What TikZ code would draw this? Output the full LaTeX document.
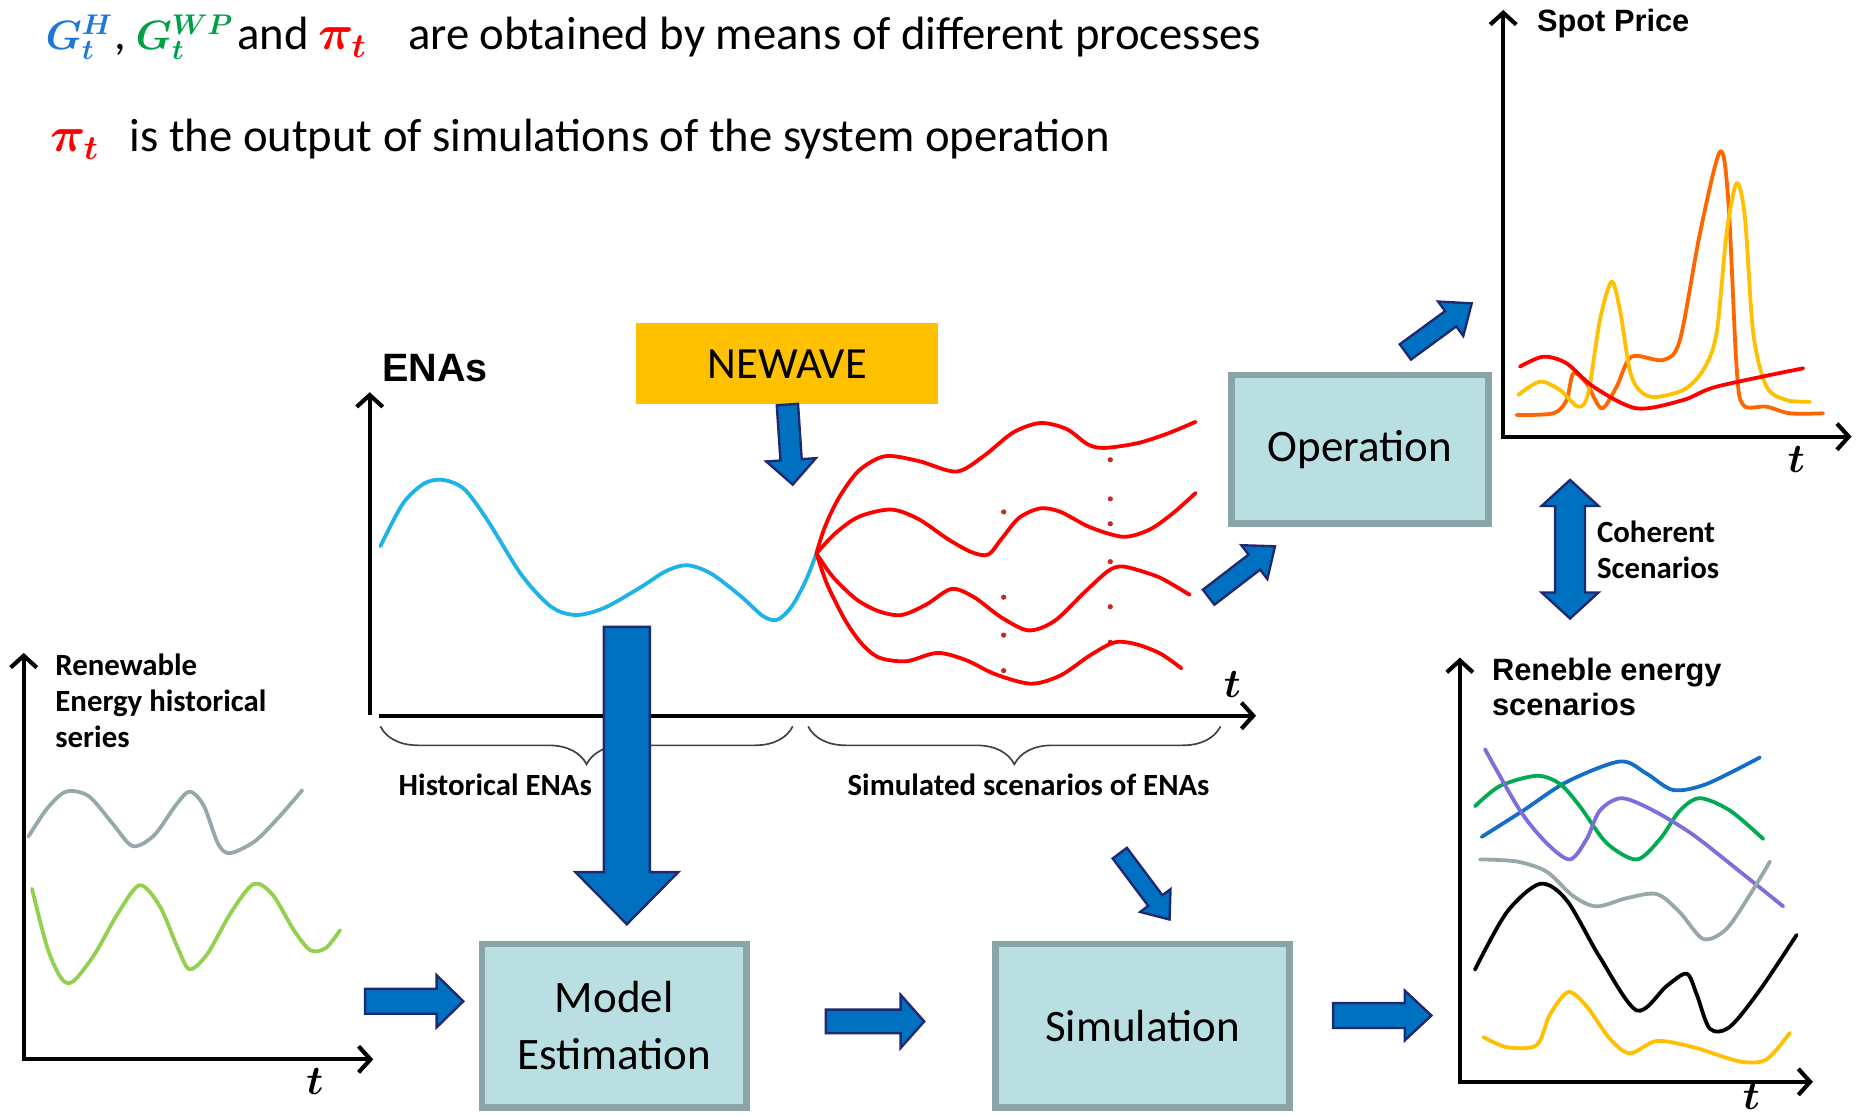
\documentclass[tikz,border=0pt]{standalone}
\usepackage{fontspec}
\usepackage{bm}
\setmainfont{Carlito}
\newfontfamily\arialfont{Liberation Sans}
\usetikzlibrary{calc,arrows.meta,decorations.pathreplacing}

\definecolor{boxfill}{RGB}{185,223,227}
\definecolor{boxline}{RGB}{138,164,167}
\definecolor{arrfill}{RGB}{0,112,192}
\definecolor{arrline}{RGB}{32,40,112}
\definecolor{newave}{RGB}{255,192,0}
\definecolor{hblue}{RGB}{30,120,215}
\definecolor{wpgreen}{RGB}{0,160,70}
\definecolor{enacyan}{RGB}{30,178,232}
\definecolor{histgray}{RGB}{150,168,170}
\definecolor{histgreen}{RGB}{146,208,80}
\definecolor{spotorange}{RGB}{255,102,0}
\definecolor{spotyellow}{RGB}{255,192,0}
\definecolor{scenblue}{RGB}{20,110,200}
\definecolor{scengreen}{RGB}{0,170,80}
\definecolor{scenpurple}{RGB}{125,110,220}
\definecolor{dotred}{RGB}{200,40,30}

\newcommand{\topfont}{\fontsize{19.7pt}{23pt}\selectfont}
\newcommand{\gfont}{\fontsize{16.5pt}{19pt}\selectfont}
\newcommand{\boxfont}{\fontsize{19pt}{23.9pt}\selectfont}
\newcommand{\smallbold}{\fontsize{13pt}{15.2pt}\selectfont\bfseries}
\newcommand{\arialbold}{\fontsize{13pt}{14.75pt}\selectfont\arialfont\bfseries}
\newcommand{\tfont}{\fontsize{16pt}{18pt}\selectfont}

%% block arrow: tail, tip, half shaft, half head, head length
\newcommand{\fatarrow}[5]{%
  \coordinate (fabase) at ($(#2)!#5!(#1)$);
  \filldraw[fatarr] ($(#1)!#3!90:(#2)$) -- ($(fabase)!#3!90:(#2)$) -- ($(fabase)!#4!90:(#2)$) -- (#2)
    -- ($(fabase)!#4!-90:(#2)$) -- ($(fabase)!#3!-90:(#2)$) -- ($(#1)!#3!-90:(#2)$) -- cycle;}
%% same, with a head at both ends
\newcommand{\fatdarrow}[5]{%
  \coordinate (fabaseA) at ($(#1)!#5!(#2)$);
  \coordinate (fabaseB) at ($(#2)!#5!(#1)$);
  \filldraw[fatarr] (#1) -- ($(fabaseA)!#4!90:(#2)$) -- ($(fabaseA)!#3!90:(#2)$) -- ($(fabaseB)!#3!90:(#2)$)
    -- ($(fabaseB)!#4!90:(#2)$) -- (#2) -- ($(fabaseB)!#4!-90:(#2)$) -- ($(fabaseB)!#3!-90:(#2)$)
    -- ($(fabaseA)!#3!-90:(#2)$) -- ($(fabaseA)!#4!-90:(#2)$) -- cycle;}

\begin{document}
\begin{tikzpicture}[x=0.5pt,y=-0.5pt]
	\tikzset{box/.style={draw=boxline,line width=2.8pt,fill=boxfill,inner sep=0pt,font=\boxfont,align=center}}
	\tikzset{fatarr/.style={draw=arrline,fill=arrfill,line width=1pt,line join=miter}}
	\tikzstyle{axis}=[line width=1.75pt,{Straight Barb[length=5pt,width=11pt]}-{Straight Barb[length=5pt,width=11pt]}]
	\tikzstyle{curve}=[line width=1.6pt,line cap=round,line join=round]
	\tikzstyle{brc}=[decorate,decoration={brace,mirror,amplitude=16pt},line width=0.7pt,draw=black!75]
	\tikzstyle{lbl}=[inner sep=0pt,align=left]

	\useasboundingbox (0,0) rectangle (1568,941);

	%% Header lines
	\node[lbl,anchor=base west,font=\gfont] (gh) at (38,42) {\color{hblue}$\bm{G^{H}_{t}}$};
	\node[lbl,anchor=base west,font=\topfont] (comma) at (96,42) {,};
	\node[lbl,anchor=base west,font=\gfont] (gwp) at (114,42) {\color{wpgreen}$\bm{G^{WP}_{t}}$};
	\node[lbl,anchor=base west,font=\topfont] (and) at (200,42) {and};
	\node[lbl,anchor=base west,font=\topfont] (pit) at (268,42) {\color{red}$\bm{\pi_{t}}$};
	\node[lbl,anchor=base west,font=\topfont] (line1) at (344,42) {are obtained by means of different processes};
	\node[lbl,anchor=base west,font=\topfont] (pitb) at (42,128) {\color{red}$\bm{\pi_{t}}$};
	\node[lbl,anchor=base west,font=\topfont] (line2) at (109,128) {is the output of simulations of the system operation};

	%% ENAs plot
	\draw[line width=1.75pt,-{Straight Barb[length=5pt,width=11pt]}] (312,603) -- (312,331);
	\draw[line width=1.75pt,-{Straight Barb[length=5pt,width=11pt]}] (320,604) -- (1060,604);
	\node[lbl,anchor=base west,font=\fontsize{16.7pt}{18pt}\selectfont\arialfont\bfseries] (enas) at (322,322) {ENAs};
	\node[font=\tfont,inner sep=0pt] (tena) at (1040,578) {$\bm{t}$};
	\draw[curve,enacyan] plot[smooth] coordinates {(321,461) (340,425) (358,408) (374,405) (392,413) (412,440) (440,485) (465,512) (486,519) (510,513) (540,496) (562,482) (580,477) (600,484) (625,503) (644,520) (656,523) (668,512) (680,490) (689,467)};
	\foreach \yy in {432,504,536,566} \fill[dotred] (847,\yy) circle (1.1pt);
	\foreach \yy in {388,421,442,474,512,542} \fill[dotred] (937,\yy) circle (1.1pt);
	\draw[curve,red] plot[smooth] coordinates {(689,467) (696,445) (708,420) (725,397) (747,385) (775,389) (807,398) (830,385) (855,365) (878,357) (900,362) (918,375) (932,378) (960,374) (985,366) (1009,356)};
	\draw[curve,red] plot[smooth] coordinates {(689,467) (705,450) (725,436) (752,430) (775,438) (800,455) (820,466) (834,468) (845,455) (860,437) (878,429) (895,432) (920,445) (948,453) (970,447) (990,433) (1009,416)};
	\draw[curve,red] plot[smooth] coordinates {(689,467) (703,487) (723,506) (742,516) (761,519) (782,510) (803,497) (822,504) (845,521) (868,532) (890,524) (915,500) (935,482) (946,478) (960,481) (980,488) (1004,502)};
	\draw[curve,red] plot[smooth] coordinates {(689,467) (698,493) (713,523) (727,543) (742,555) (765,558) (791,551) (815,557) (840,569) (870,577) (895,570) (920,553) (941,542) (960,544) (980,552) (997,564)};
	\draw[brc] (321,613) -- (669,613);
	\draw[brc] (682,613) -- (1030,613);
	\node[font=\smallbold,inner sep=0pt,anchor=base] (hist) at (418,671) {Historical ENAs};
	\node[font=\smallbold,inner sep=0pt,anchor=base] (simsc) at (868,671) {Simulated scenarios of ENAs};

	%% Boxes
	\node[fill=newave,inner sep=0pt,minimum width=127.5pt,minimum height=34pt,font=\fontsize{18.8pt}{22pt}\selectfont] (nw) at (664.5,307) {NEWAVE};
	\node[box,minimum width=111.5pt,minimum height=69pt] (model) at (518.3,865.5) {Model\\Estimation};
	\node[box,minimum width=123.9pt,minimum height=69pt] (sim) at (964.2,865.5) {Simulation};
	\node[box,minimum width=108.3pt,minimum height=62.6pt] (oper) at (1147.7,379.1) {Operation};

	%% Renewable history plot
	\draw[axis] (20,551) -- (20,894) -- (315,894);
	\node[lbl,anchor=west,font=\smallbold] (renlbl) at (46.4,591.5) {Renewable\\Energy historical\\series};
	\node[font=\tfont,inner sep=0pt] (tren) at (265.8,912.8) {$\bm{t}$};
	\draw[curve,histgray] plot[smooth] coordinates {(24,706) (40,682) (56,668) (75,672) (95,695) (112,714) (130,705) (148,680) (160,668) (172,680) (184,712) (194,720) (215,710) (235,690) (255,667)};
	\draw[curve,histgreen] plot[smooth] coordinates {(27,750) (40,800) (52,826) (62,828) (80,805) (100,770) (118,747) (135,765) (150,800) (160,818) (175,805) (195,770) (214,746) (230,755) (248,785) (262,802) (275,800) (287,785)};

	%% Spot price plot
	\draw[axis] (1268.6,8.4) -- (1268.6,368.5) -- (1562.6,368.5);
	\node[lbl,anchor=base west,font=\arialbold] (spot) at (1296.7,26.5) {Spot Price};
	\node[font=\tfont,inner sep=0pt] (tspot) at (1516,388) {$\bm{t}$};
	\draw[curve,spotorange] plot[smooth] coordinates {(1279.9,350.2) (1310.8,348.8) (1322.1,337.6) (1327.7,315.1) (1338.9,323.5) (1351.6,344.6) (1364.3,326.3) (1376.9,301) (1403.6,303.8) (1417.7,286.9) (1434.6,196.9) (1451.5,128) (1458.5,168.8) (1465.5,309.4) (1471.1,341.8) (1490.8,343.2) (1510.5,348.8) (1538.6,348.8)};
	\draw[curve,spotyellow] plot[smooth] coordinates {(1281.3,333.3) (1299.5,322.1) (1316.4,329.1) (1331.9,343.2) (1340.3,331.9) (1350.2,270) (1360,237.7) (1367.1,261.6) (1376.9,317.9) (1392.4,334.7) (1420.5,329.1) (1437.4,312.2) (1448.6,281.3) (1457.1,196.9) (1465.5,154.7) (1472.5,182.8) (1479.6,281.3) (1490.8,326.3) (1507.7,337.6) (1527.4,339)};
	\draw[curve,red] plot[smooth] coordinates {(1282.7,309.4) (1302.4,301) (1322,306.6) (1344.6,326.3) (1381.1,344.6) (1420.5,337.6) (1448.6,326.3) (1521.8,310.8)};

	%% Renewable scenarios plot
	\draw[axis] (1232,555) -- (1232,913) -- (1530,913);
	\node[lbl,anchor=west,font=\arialbold] (scenlbl) at (1258.8,579.7) {Reneble energy\\scenarios};
	\node[font=\tfont,inner sep=0pt] (tscen) at (1478,925) {$\bm{t}$};
	\draw[curve,scenblue] plot[smooth] coordinates {(1250.4,706.3) (1285.5,684) (1322.1,659.9) (1367.1,642.6) (1389.6,652.9) (1412.1,666.7) (1440.2,661.6) (1485.2,639.2)};
	\draw[curve,scengreen] plot[smooth] coordinates {(1244.7,680.5) (1265.8,663.3) (1296.8,654.7) (1316.5,661.6) (1333.3,680.5) (1355.9,711.5) (1381.2,725.3) (1400.9,708.1) (1417.7,684) (1434.6,673.6) (1459.9,684) (1488.1,708.1)};
	\draw[curve,scenpurple] plot[smooth] coordinates {(1253.2,632.3) (1282.7,683.9) (1305.2,711.5) (1324.9,725.3) (1339,708.1) (1350.2,684) (1368.5,673.6) (1395.2,684) (1429,704.6) (1468.4,735.6) (1504.9,764.9)};
	\draw[curve,histgray] plot[smooth] coordinates {(1249,725.3) (1279.9,727) (1305.2,735.6) (1327.7,756.3) (1347.4,764.9) (1372.7,758) (1398.1,754.5) (1417.7,770) (1437.4,792.4) (1457.1,783.8) (1478.2,752.8) (1493.7,727)};
	\draw[curve,black] plot[smooth] coordinates {(1244.7,818.3) (1271.5,770) (1299.6,745.9) (1322.1,759.7) (1350.2,808) (1381.2,852.7) (1406.5,832.1) (1423.4,821.7) (1431.8,839) (1443,868.2) (1459.9,866.5) (1485.2,835.5) (1516.2,789)};
	\draw[curve,spotyellow] plot[smooth] coordinates {(1251.8,875.1) (1271.5,883.7) (1296.8,882) (1308,856.2) (1323.5,837.2) (1339,849.3) (1358.7,876.8) (1375.5,888.9) (1398.1,878.5) (1429,883.7) (1468.4,895.8) (1490.8,894) (1510.5,871.6)};

	\node[lbl,anchor=west,font=\smallbold] (coh) at (1347.4,464) {Coherent\\Scenarios};

	%% Block arrows
	\coordinate (nwTip) at (669,409);
	\coordinate (estTail) at (529,529);
	\coordinate (estTip) at (529,780);
	\coordinate (renTail) at (308,845);
	\coordinate (renTip) at (391,845);
	\coordinate (simTail) at (697,862);
	\coordinate (simTip) at (780,862);
	\coordinate (outTail) at (1125,857);
	\coordinate (outTip) at (1208,857);
	\coordinate (scTail) at (945,720);
	\coordinate (scTip) at (987,776);
	\coordinate (opTail) at (1020,504);
	\coordinate (opTip) at (1076,461);
	\coordinate (spTail) at (1186,297);
	\coordinate (spTip) at (1242,256);
	\coordinate (cohTop) at (1325,405);
	\coordinate (cohBot) at (1325,522);

	\fatarrow{nw.south}{nwTip}{4.5pt}{10.5pt}{10.5pt}
	\fatarrow{estTail}{estTip}{9.7pt}{21.7pt}{22pt}
	\fatarrow{renTail}{renTip}{5.25pt}{11pt}{11.25pt}
	\fatarrow{simTail}{simTip}{5pt}{11.25pt}{10pt}
	\fatarrow{outTail}{outTip}{5.25pt}{10.5pt}{11.25pt}
	\fatarrow{scTail}{scTip}{3.75pt}{8pt}{10pt}
	\fatarrow{opTail}{opTip}{4pt}{9pt}{11pt}
	\fatarrow{spTail}{spTip}{4pt}{9pt}{11pt}
	\fatdarrow{cohTop}{cohBot}{6.3pt}{12pt}{11pt}
\end{tikzpicture}
\end{document}
